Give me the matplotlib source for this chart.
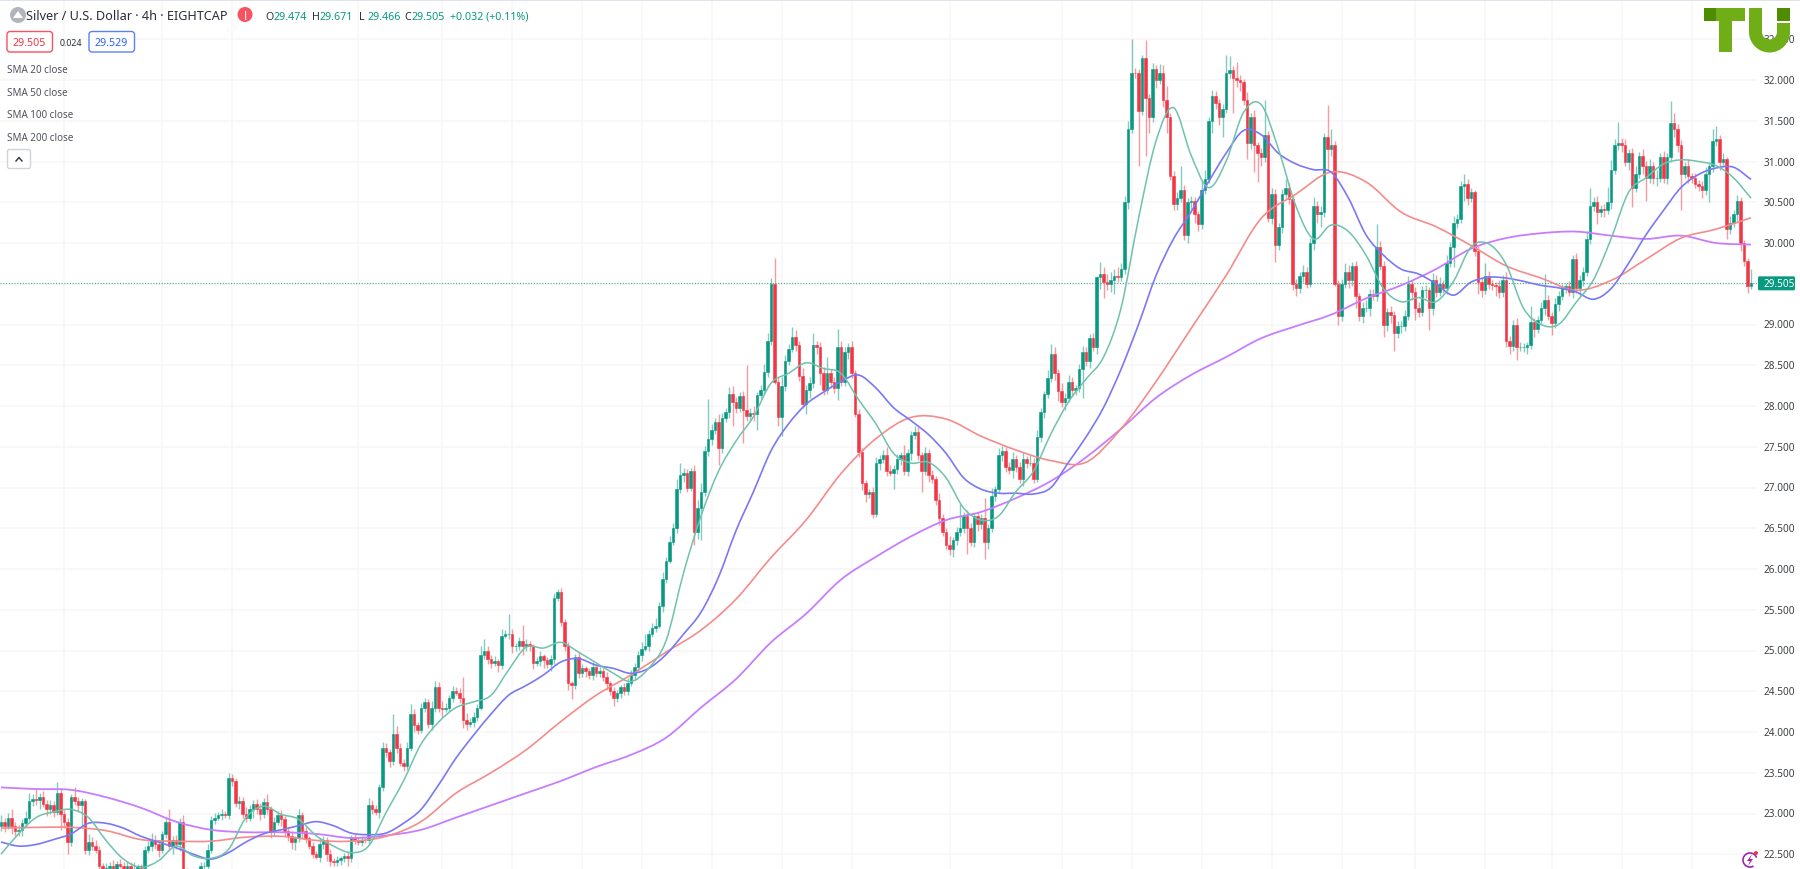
import numpy as np
import matplotlib
matplotlib.use("Agg")
import matplotlib.pyplot as plt
from matplotlib import patches
from matplotlib.path import Path

plt.rcParams['font.family'] = ['Noto Sans', 'DejaVu Sans']

# closes of the 4h candles, 20 per line
closes = [
    22.9, 22.85, 22.95, 22.85, 22.78, 22.8, 22.88, 22.95, 23.15, 23.18, 23.16, 23.2, 23.12, 23.05, 23.1, 23.02, 23.25, 23.0, 22.9, 22.65,
    23.2, 23.15, 23.1, 23.15, 22.55, 22.65, 22.6, 22.55, 22.35, 22.3, 22.33, 22.35, 22.3, 22.38, 22.35, 22.32, 22.36, 22.3, 22.32, 22.35,
    22.33, 22.55, 22.6, 22.68, 22.62, 22.55, 22.75, 22.9, 22.6, 22.68, 22.62, 22.9, 22.3, 22.2, 22.15, 22.1, 22.15, 22.35, 22.36, 22.55,
    22.92, 22.95, 22.98, 23.0, 22.98, 23.44, 23.4, 23.13, 23.15, 23.0, 22.95, 23.05, 23.12, 23.05, 23.0, 23.14, 23.05, 22.78, 22.9, 22.98,
    22.93, 22.78, 22.72, 22.65, 22.7, 22.98, 22.78, 22.7, 22.6, 22.5, 22.47, 22.62, 22.68, 22.5, 22.42, 22.4, 22.43, 22.45, 22.48, 22.46,
    22.7, 22.68, 22.65, 22.68, 22.67, 23.11, 23.05, 23.02, 23.32, 23.8, 23.75, 23.65, 23.97, 23.8, 23.62, 23.58, 23.8, 24.22, 24.08, 24.03,
    24.3, 24.37, 24.1, 24.3, 24.55, 24.3, 24.28, 24.3, 24.42, 24.5, 24.48, 24.42, 24.15, 24.1, 24.12, 24.18, 24.3, 24.95, 25.0, 24.9,
    24.85, 24.87, 24.82, 25.18, 25.2, 25.2, 25.05, 25.05, 25.12, 25.05, 25.08, 25.05, 24.85, 24.87, 24.93, 24.88, 24.83, 24.9, 25.65, 25.72,
    25.35, 25.05, 24.6, 24.58, 24.92, 24.72, 24.78, 24.75, 24.7, 24.8, 24.72, 24.75, 24.68, 24.6, 24.5, 24.42, 24.48, 24.55, 24.5, 24.6,
    24.7, 24.8, 24.95, 25.02, 25.05, 25.2, 25.28, 25.3, 25.55, 25.88, 26.1, 26.33, 26.5, 26.98, 27.15, 27.18, 27.0, 27.2, 26.45, 26.75,
    26.95, 27.45, 27.6, 27.7, 27.8, 27.48, 27.85, 27.93, 28.15, 28.05, 27.98, 28.12, 27.95, 27.88, 27.92, 27.9, 28.13, 28.2, 28.42, 28.8,
    29.5, 28.3, 27.86, 28.25, 28.55, 28.7, 28.85, 28.75, 28.37, 28.02, 28.2, 28.28, 28.75, 28.72, 28.4, 28.2, 28.4, 28.3, 28.22, 28.72,
    28.3, 28.66, 28.72, 28.4, 27.9, 27.43, 27.05, 26.92, 26.95, 26.68, 27.3, 27.35, 27.4, 27.2, 27.18, 27.23, 27.35, 27.4, 27.2, 27.42,
    27.64, 27.68, 27.4, 27.2, 27.42, 27.15, 27.1, 26.85, 26.62, 26.45, 26.3, 26.25, 26.35, 26.45, 26.5, 26.65, 26.5, 26.33, 26.65, 26.55,
    26.62, 26.33, 26.5, 26.9, 26.98, 27.4, 27.45, 27.25, 27.22, 27.35, 27.25, 27.1, 27.35, 27.3, 27.3, 27.1, 27.62, 27.93, 28.15, 28.34,
    28.64, 28.4, 28.18, 28.05, 28.1, 28.3, 28.2, 28.22, 28.45, 28.66, 28.55, 28.83, 28.72, 29.58, 29.62, 29.52, 29.5, 29.55, 29.6, 29.58,
    29.68, 30.5, 31.4, 32.09, 32.08, 31.62, 32.27, 31.78, 31.55, 32.13, 32.0, 32.08, 31.75, 31.55, 30.82, 30.48, 30.55, 30.65, 30.1, 30.5,
    30.52, 30.35, 30.23, 30.65, 30.78, 31.5, 31.8, 31.72, 31.55, 31.65, 32.09, 32.12, 32.02, 32.0, 31.97, 31.75, 31.23, 31.55, 31.2, 31.1,
    31.05, 31.32, 30.31, 30.6, 29.97, 30.2, 30.6, 30.68, 30.54, 29.5, 29.45, 29.6, 29.65, 29.5, 30.0, 30.46, 30.35, 30.38, 31.3, 31.15,
    31.2, 29.5, 29.1, 29.5, 29.65, 29.55, 29.72, 29.35, 29.1, 29.2, 29.2, 29.38, 29.35, 29.95, 29.72, 29.0, 29.15, 29.12, 28.9, 28.98,
    28.98, 29.1, 29.5, 29.4, 29.2, 29.15, 29.42, 29.42, 29.2, 29.55, 29.4, 29.5, 29.45, 29.75, 29.95, 30.25, 30.3, 30.7, 30.73, 30.55,
    30.62, 29.9, 29.52, 29.42, 29.6, 29.5, 29.48, 29.47, 29.4, 29.55, 28.8, 28.74, 29.0, 28.72, 28.72, 28.72, 28.75, 29.03, 28.95, 29.05,
    29.2, 29.3, 29.1, 29.02, 29.25, 29.35, 29.45, 29.47, 29.4, 29.8, 29.45, 29.55, 29.65, 30.05, 30.45, 30.5, 30.38, 30.42, 30.4, 30.5,
    30.9, 31.2, 31.23, 31.2, 31.0, 31.1, 30.68, 30.85, 31.07, 30.95, 30.8, 30.95, 30.8, 30.8, 31.05, 30.8, 31.05, 31.47, 31.4, 31.2,
    30.85, 30.95, 30.82, 30.8, 30.72, 30.7, 30.65, 30.85, 30.95, 31.25, 31.27, 31.0, 31.03, 30.17, 30.25, 30.35, 30.52, 30.0, 29.78, 29.474, 29.505,
]
# wick lengths above and below the body, in cents
wick_up = [
    8, 5, 6, 10, 4, 6, 5, 8, 10, 6, 12, 5, 8, 4, 6, 5, 14, 6, 4, 5,
    4, 12, 5, 4, 3, 10, 6, 8, 5, 4, 6, 5, 8, 4, 6, 5, 6, 4, 8, 3,
    3, 5, 6, 8, 6, 5, 4, 6, 16, 5, 6, 4, 8, 3, 4, 3, 4, 5, 4, 8,
    5, 6, 4, 5, 3, 6, 4, 3, 6, 5, 8, 6, 5, 6, 8, 5, 10, 4, 6, 5,
    6, 4, 5, 6, 3, 8, 4, 6, 3, 5, 4, 8, 5, 3, 6, 4, 5, 3, 4, 6,
    4, 5, 3, 4, 3, 8, 6, 5, 4, 8, 6, 4, 25, 10, 6, 5, 8, 12, 6, 4,
    6, 5, 4, 8, 8, 6, 8, 5, 4, 6, 5, 6, 25, 8, 5, 6, 4, 10, 14, 5,
    4, 6, 3, 8, 5, 25, 6, 4, 5, 19, 6, 4, 3, 5, 6, 3, 4, 5, 6, 3,
    5, 4, 6, 3, 4, 6, 5, 3, 4, 6, 3, 5, 4, 6, 3, 5, 4, 3, 5, 6,
    6, 5, 4, 8, 15, 5, 6, 10, 4, 8, 5, 8, 6, 12, 15, 6, 5, 4, 8, 10,
    10, 6, 48, 8, 5, 10, 6, 4, 8, 10, 6, 5, 6, 55, 5, 8, 4, 6, 10, 10,
    7, 31, 5, 10, 8, 6, 12, 8, 5, 10, 6, 8, 14, 5, 6, 8, 20, 6, 5, 22,
    8, 7, 5, 8, 4, 6, 5, 4, 3, 6, 8, 5, 6, 10, 8, 5, 6, 4, 12, 5,
    5, 8, 6, 4, 8, 5, 6, 4, 8, 6, 5, 10, 4, 6, 30, 5, 8, 6, 4, 5,
    6, 25, 5, 10, 4, 8, 6, 5, 6, 8, 5, 6, 8, 4, 10, 6, 8, 5, 4, 10,
    12, 8, 5, 10, 6, 8, 5, 4, 6, 8, 6, 5, 7, 2, 15, 8, 10, 10, 8, 10,
    8, 8, 10, 41, 6, 5, 4, 22, 5, 8, 6, 12, 10, 18, 5, 6, 8, 30, 6, 5,
    6, 5, 4, 12, 12, 5, 8, 6, 5, 6, 22, 18, 5, 20, 6, 4, 10, 5, 8, 4,
    6, 44, 5, 8, 6, 4, 6, 10, 6, 4, 6, 5, 8, 5, 6, 10, 5, 8, 5, 39,
    20, 5, 4, 6, 10, 8, 5, 6, 4, 8, 10, 6, 5, 28, 8, 6, 5, 8, 4, 6,
    6, 8, 10, 5, 6, 8, 5, 6, 4, 8, 6, 8, 5, 10, 6, 8, 5, 6, 12, 5,
    5, 3, 6, 5, 15, 6, 5, 4, 8, 6, 10, 6, 5, 8, 6, 5, 4, 20, 5, 6,
    8, 32, 6, 5, 8, 6, 5, 4, 6, 5, 8, 6, 5, 10, 22, 6, 8, 5, 6, 19,
    12, 8, 26, 6, 8, 5, 6, 10, 5, 8, 6, 8, 5, 10, 6, 8, 5, 27, 12, 6,
    6, 5, 8, 4, 6, 5, 6, 8, 5, 15, 16, 6, 8, 3, 8, 5, 7, 5, 4, 3, 17,
]
wick_dn = [
    6, 8, 4, 10, 6, 5, 8, 5, 4, 6, 5, 10, 4, 8, 5, 6, 4, 20, 8, 15,
    5, 4, 8, 25, 5, 6, 5, 3, 3, 3, 3, 2, 3, 3, 2, 3, 2, 3, 3, 2,
    3, 5, 4, 6, 5, 8, 4, 5, 6, 10, 6, 8, 5, 10, 8, 5, 6, 4, 5, 6,
    4, 5, 3, 6, 4, 5, 6, 5, 8, 6, 5, 4, 10, 5, 8, 6, 5, 8, 6, 4,
    8, 5, 6, 8, 10, 5, 8, 6, 4, 5, 3, 6, 5, 8, 6, 4, 5, 6, 4, 10,
    5, 6, 4, 5, 3, 5, 6, 4, 8, 4, 6, 8, 5, 6, 4, 6, 5, 3, 8, 5,
    4, 6, 5, 8, 6, 5, 10, 4, 6, 5, 3, 6, 10, 8, 4, 6, 5, 3, 5, 6,
    6, 4, 8, 5, 3, 6, 8, 5, 4, 10, 6, 5, 8, 4, 6, 10, 5, 8, 6, 4,
    5, 6, 8, 17, 5, 6, 4, 8, 5, 6, 4, 5, 6, 8, 5, 10, 5, 6, 5, 4,
    4, 6, 5, 8, 3, 6, 4, 5, 3, 8, 5, 3, 4, 6, 5, 8, 6, 4, 16, 8,
    40, 5, 6, 8, 4, 20, 6, 5, 8, 30, 6, 5, 40, 6, 5, 8, 20, 4, 5, 6,
    5, 3, 10, 23, 6, 5, 4, 8, 6, 5, 12, 10, 6, 8, 14, 6, 5, 8, 6, 15,
    6, 5, 8, 6, 3, 6, 8, 10, 5, 6, 4, 8, 5, 6, 4, 20, 6, 8, 5, 6,
    8, 4, 6, 26, 5, 8, 4, 6, 8, 5, 6, 8, 10, 5, 4, 6, 31, 5, 6, 8,
    6, 21, 8, 4, 6, 5, 8, 6, 5, 10, 6, 5, 8, 6, 4, 5, 3, 6, 8, 5,
    4, 8, 12, 6, 10, 5, 8, 6, 5, 35, 6, 8, 5, 8, 15, 20, 8, 10, 18, 6,
    5, 6, 8, 5, 6, 67, 5, 71, 20, 6, 10, 5, 8, 20, 5, 8, 8, 5, 6, 10,
    8, 10, 8, 6, 5, 4, 15, 8, 10, 25, 5, 6, 42, 8, 10, 6, 20, 8, 33, 35,
    10, 6, 5, 8, 20, 6, 8, 5, 6, 8, 10, 6, 8, 5, 4, 8, 10, 15, 6, 25,
    8, 3, 10, 6, 5, 10, 8, 15, 6, 8, 5, 10, 5, 6, 5, 15, 8, 10, 22, 6,
    8, 6, 5, 10, 15, 6, 5, 10, 27, 8, 6, 5, 6, 8, 5, 25, 6, 5, 18, 8,
    5, 6, 14, 8, 5, 6, 6, 12, 8, 6, 8, 10, 6, 16, 5, 6, 8, 5, 10, 6,
    6, 8, 5, 15, 6, 8, 5, 6, 5, 8, 6, 10, 8, 5, 6, 6, 15, 6, 8, 5,
    8, 5, 6, 8, 5, 10, 24, 6, 5, 10, 28, 6, 8, 10, 5, 6, 8, 5, 10, 8,
    45, 5, 8, 6, 5, 6, 10, 6, 35, 8, 6, 10, 5, 12, 6, 5, 8, 10, 6, 9, 4,
]
first_open = 22.85

# moving averages (SMA 20, SMA 50) or every 10 bars (others)
sma20 = [
    22.5, 22.75, 22.95, 23.02, 23.05, 22.95, 22.67, 22.44, 22.34, 22.42, 22.6, 22.48, 22.45, 22.56, 22.95, 23.09, 22.99, 22.93, 22.73, 22.6,
    22.52, 22.6, 23.01, 23.4, 23.85, 24.12, 24.3, 24.37, 24.45, 24.76, 25.04, 25.03, 25.1, 24.98, 24.85, 24.72, 24.62, 24.78, 25.12, 25.95,
    26.65, 27.2, 27.57, 27.87, 28.28, 28.4, 28.53, 28.46, 28.4, 28.08, 27.78, 27.42, 27.3, 27.31, 27.12, 26.75, 26.6, 26.65, 26.95, 27.2,
    27.66, 28.05, 28.33, 28.6, 29.2, 30.3, 31.25, 31.66, 31.08, 30.68, 31.0, 31.6, 31.7, 31.15, 30.45, 30.05, 30.22, 30.14, 29.85, 29.44,
    29.28, 29.33, 29.28, 29.53, 29.95, 29.99, 29.74, 29.2, 29.0, 29.0, 29.27, 29.55, 30.05, 30.62, 30.8, 30.97, 31.02, 31.0, 30.95, 30.8, 30.55,
]
sma50 = [
    22.65, 22.6, 22.62, 22.68, 22.75, 22.88, 22.88, 22.82, 22.72, 22.65, 22.58, 22.5, 22.44, 22.52, 22.65, 22.75, 22.8, 22.85, 22.9, 22.85,
    22.76, 22.74, 22.76, 22.88, 23.05, 23.35, 23.68, 23.96, 24.22, 24.45, 24.57, 24.7, 24.86, 24.9, 24.82, 24.78, 24.72, 24.78, 24.95, 25.2,
    25.47, 25.9, 26.47, 26.95, 27.45, 27.78, 28.02, 28.17, 28.3, 28.38, 28.22, 27.98, 27.82, 27.65, 27.42, 27.12, 26.98, 26.93, 26.93, 26.92,
    27.0, 27.31, 27.62, 27.98, 28.45, 29.0, 29.6, 30.05, 30.38, 30.75, 31.1, 31.38, 31.33, 31.1, 30.97, 30.9, 30.87, 30.55, 30.1, 29.85,
    29.68, 29.62, 29.5, 29.36, 29.52, 29.58, 29.57, 29.53, 29.48, 29.45, 29.4, 29.31, 29.44, 29.75, 30.1, 30.4, 30.68, 30.84, 30.92, 30.93, 30.78,
]
sma100 = [
    22.82, 22.83, 22.83, 22.79, 22.68, 22.66, 22.66, 22.71, 22.72, 22.67, 22.66, 22.72, 22.9, 23.25, 23.5, 23.78, 24.13, 24.45, 24.7, 24.98,
    25.25, 25.63, 26.14, 26.6, 27.17, 27.6, 27.86, 27.84, 27.63, 27.46, 27.33, 27.31, 27.72, 28.3, 28.95, 29.6, 30.3, 30.6, 30.87, 30.75,
    30.38, 30.2, 29.97, 29.72, 29.57, 29.42, 29.54, 29.8, 30.06, 30.17, 30.31,
]
sma200 = [
    23.32, 23.3, 23.29, 23.2, 23.07, 22.9, 22.8, 22.77, 22.77, 22.75, 22.7, 22.73, 22.8, 22.95, 23.1, 23.25, 23.4, 23.57, 23.72, 23.93,
    24.3, 24.65, 25.1, 25.45, 25.87, 26.15, 26.4, 26.6, 26.7, 26.87, 27.08, 27.37, 27.72, 28.1, 28.38, 28.6, 28.83, 28.98, 29.12, 29.32,
    29.48, 29.68, 29.93, 30.06, 30.12, 30.14, 30.09, 30.05, 30.09, 30.0, 29.98,
]

price_ticks = [22.5, 23, 23.5, 24, 24.5, 25, 25.5, 26, 26.5, 27, 27.5, 28, 28.5, 29, 29.5, 30, 30.5, 31, 31.5, 32, 32.5]
grid_bars = [18, 46, 66, 102, 126, 146, 166, 183, 203, 223, 243, 271, 303, 323, 343, 363, 383, 404, 424, 443, 463, 483]
last_price = 29.505
sma_names = ["SMA 20 close", "SMA 50 close", "SMA 100 close", "SMA 200 close"]

assert len(closes) == len(wick_up) == len(wick_dn), (len(closes), len(wick_up), len(wick_dn))

GREEN = "#089981"
RED = "#f23645"
TEXT = "#2a2e39"
GRID = "#f6f6f8"

closes = np.array(closes)
opens = np.r_[first_open, closes[:-1]]
opens[-1] = 29.474
highs = np.maximum(opens, closes) + np.array(wick_up) / 100
lows = np.minimum(opens, closes) - np.array(wick_dn) / 100
bars = np.arange(len(closes))
up = closes >= opens


def draw_sma(axis, step, values, color, width):
    # bezier through the read values so the line has no corners
    x = np.arange(len(values)) * step
    y = np.array(values)
    pts = np.c_[x, y]
    tang = np.gradient(pts, axis=0) / 3
    verts = [pts[0]]
    codes = [Path.MOVETO]
    for k in range(len(pts) - 1):
        verts += [pts[k] + tang[k], pts[k + 1] - tang[k + 1], pts[k + 1]]
        codes += [Path.CURVE4] * 3
    axis.add_patch(patches.PathPatch(Path(verts, codes), fill=False, edgecolor=color, lw=width, zorder=4))


BAR_PX = 3.5
Y32_PX = 81
PX_PER_UNIT = 81.5
fig = plt.figure(figsize=(18, 8.7), dpi=100, facecolor="white")
ax = fig.add_axes([0, 0, 1757 / 1800, 1])
ax.set_xlim(-1 / BAR_PX, 1756 / BAR_PX)
ax.set_ylim(32 - (870 - Y32_PX) / PX_PER_UNIT, 32 + Y32_PX / PX_PER_UNIT)
for s in ax.spines.values():
    s.set_visible(False)
ax.set_xticks([])
ax.set_yticks([])

for p in price_ticks:
    ax.axhline(p, color=GRID, lw=1.1, zorder=0)
for b in grid_bars:
    ax.axvline(b, color=GRID, lw=1.1, zorder=0)
ax.axhline(last_price, color=GREEN, lw=0.8, ls=(0, (1, 1.5)), alpha=0.8, zorder=1)

# candles
ax.vlines(bars[up], lows[up], highs[up], color=GREEN, lw=1.0, alpha=0.5, zorder=2)
ax.vlines(bars[~up], lows[~up], highs[~up], color=RED, lw=1.0, alpha=0.5, zorder=2)
ax.bar(bars[up], (closes - opens)[up], bottom=opens[up], width=0.7, color=GREEN, edgecolor=GREEN, lw=0.4, zorder=3)
ax.bar(bars[~up], (closes - opens)[~up], bottom=opens[~up], width=0.7, color=RED, edgecolor=RED, lw=0.4, zorder=3)

draw_sma(ax, 10, sma200, "#c77dff", 1.3)
draw_sma(ax, 10, sma100, "#f58b8b", 1.2)
draw_sma(ax, 5, sma50, "#7a78f5", 1.2)
draw_sma(ax, 5, sma20, "#6fc2ad", 1.1)

# everything around the chart is laid out in pixels
ui = fig.add_axes([0, 0, 1, 1])
ui.set_xlim(0, 1800)
ui.set_ylim(870, 0)
ui.axis("off")
ui.patch.set_alpha(0)

ui.add_patch(patches.Rectangle((0, 0), 1800, 2, color="#e0e3eb", lw=0))

for p in price_ticks:
    ui.text(1764, Y32_PX + 0.5 + (32 - p) * PX_PER_UNIT, f"{p:.3f}", fontsize=7.2, color="#3c4043", va="center", ha="left")

# last price tag
ty = Y32_PX + (32 - last_price) * PX_PER_UNIT
ui.add_patch(patches.FancyBboxPatch((1758, ty - 7), 37, 14, boxstyle="round,pad=0,rounding_size=1.5", color=GREEN, lw=0, zorder=5))
ui.text(1764, ty + 0.5, f"{last_price:.3f}", fontsize=7.2, color="white", va="center", ha="left", zorder=6)

# header
ui.add_patch(patches.Circle((18, 16), 8, color="#b2b5be", lw=0))
ui.add_patch(patches.Polygon([[13, 19], [18, 12], [23, 19]], closed=True, color="white", lw=0))
ui.text(26, 17, "Silver / U.S. Dollar · 4h · EIGHTCAP", fontsize=9.1, color=TEXT, va="center", ha="left")
ui.add_patch(patches.Circle((245, 15.5), 7.5, color="#f7525f", lw=0))
ui.text(245, 16, "!", fontsize=8.5, color="white", va="center", ha="center", fontweight="bold")

ohlc_labels = ["O", "H", "L", "C"]
ohlc_values = ["29.474", "29.671", "29.466", "29.505"]
ohlc_x = [265, 312, 359, 404]
for lab, val, xp in zip(ohlc_labels, ohlc_values, ohlc_x):
    ui.text(xp, 17, lab, fontsize=7.7, color=TEXT, va="center", ha="left")
    ui.text(xp + 8, 17, val, fontsize=7.7, color=GREEN, va="center", ha="left")
ui.text(450, 17, "+0.032 (+0.11%)", fontsize=7.7, color=GREEN, va="center", ha="left")

# bid / ask badges
ui.add_patch(patches.FancyBboxPatch((7, 32.5), 45.5, 20.5, boxstyle="round,pad=0,rounding_size=3", fc="white", ec="#f7525f", lw=1))
ui.text(29.5, 44, "29.505", fontsize=7.7, color="#f23645", va="center", ha="center")
ui.text(71, 44, "0.024", fontsize=6.4, color=TEXT, va="center", ha="center")
ui.add_patch(patches.FancyBboxPatch((89, 32.5), 45.5, 20.5, boxstyle="round,pad=0,rounding_size=3", fc="white", ec="#5b82f5", lw=1))
ui.text(111.5, 44, "29.529", fontsize=7.7, color="#2962ff", va="center", ha="center")

for name, yp in zip(sma_names, [70.5, 93.5, 116, 138.5]):
    ui.text(7, yp, name, fontsize=7.1, color="#50535e", va="center", ha="left")

ui.add_patch(patches.FancyBboxPatch((7.5, 150.5), 23, 19, boxstyle="round,pad=0,rounding_size=2", fc="white", ec="#d1d4dc", lw=1))
ui.plot([16, 19, 22], [162, 158.5, 162], color=TEXT, lw=1)

# logo
LOGO = "#6fae17"
LOGO_DARK = "#4f8d00"
ui.add_patch(patches.Rectangle((1704, 9), 12, 13, color=LOGO_DARK, lw=0, zorder=7))
ui.add_patch(patches.Rectangle((1716, 9), 29, 13, color=LOGO, lw=0, zorder=7))
ui.add_patch(patches.Rectangle((1719, 9), 13, 44, color=LOGO, lw=0, zorder=7))
ui.add_patch(patches.Rectangle((1749, 9), 13, 24, color=LOGO, lw=0, zorder=7))
ui.add_patch(patches.Rectangle((1777, 24), 13, 9, color=LOGO, lw=0, zorder=7))
ui.add_patch(patches.Wedge((1769.5, 33), 20.5, 0, 180, width=13, color=LOGO, lw=0, zorder=7))
ui.add_patch(patches.Rectangle((1777, 9), 13, 13, color=LOGO_DARK, lw=0, zorder=7))

# bolt icon in the corner
ui.add_patch(patches.Arc((1750, 861), 14, 14, theta1=60, theta2=340, color="#9c27b0", lw=1.2))
ui.add_patch(patches.Polygon([[1752, 855], [1747, 862], [1750, 862], [1748, 867], [1753, 860], [1750, 860]], closed=True, color="#9c27b0", lw=0))
ui.add_patch(patches.Circle((1756, 854), 2, color="#f23645", lw=0))

fig.savefig("out.png", dpi=100, facecolor="white")
